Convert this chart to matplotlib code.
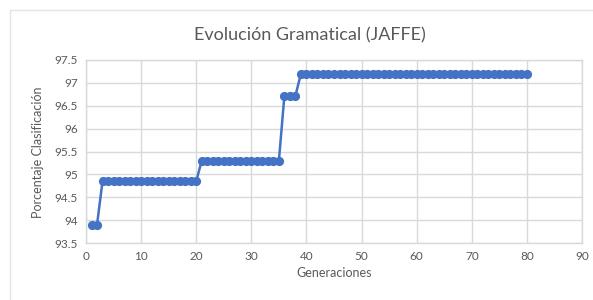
import matplotlib
matplotlib.use("Agg")
import matplotlib.pyplot as plt
from matplotlib.lines import Line2D

plt.rcParams['font.family'] = ['Lato', 'DejaVu Sans']

generaciones = list(range(1, 81))
porcentaje = ([93.9] * 2 + [94.85] * 18 + [95.3] * 15 + [96.72] * 3 + [97.2] * 42)

x_ticks = [0, 10, 20, 30, 40, 50, 60, 70, 80, 90]
y_ticks = [93.5, 94, 94.5, 95, 95.5, 96, 96.5, 97, 97.5]
y_tick_labels = ["93.5", "94", "94.5", "95", "95.5", "96", "96.5", "97", "97.5"]

title = "Evolución Gramatical (JAFFE)"
xlabel = "Generaciones"
ylabel = "Porcentaje Clasificación"

fig = plt.figure(figsize=(5.93, 3.0), dpi=100)
ax = fig.add_axes([86/593, 1 - 243/300, (582 - 86)/593, (243 - 60)/300])

grid_c = "#D9D9D9"
text_c = "#595959"

ax.plot(generaciones, porcentaje, color="#4472C4", lw=1.8, marker="o",
        markersize=5.6, markerfacecolor="#4472C4", markeredgecolor="#4472C4", zorder=3)

ax.set_xlim(0, 90)
ax.set_ylim(93.5, 97.5)
ax.set_xticks(x_ticks)
ax.set_yticks(y_ticks)
ax.set_yticklabels(y_tick_labels)
ax.grid(True, color=grid_c, lw=1.0)
ax.set_axisbelow(True)
for s in ax.spines.values():
    s.set_color(grid_c)
    s.set_linewidth(1.0)
ax.tick_params(length=0, colors=text_c, labelsize=8.5, pad=6)

fig.text(310/593, 1 - 35/300, title, ha="center", va="center", fontsize=13, color=text_c)
fig.text(334/593, 1 - 273/300, xlabel, ha="center", va="center", fontsize=9, color=text_c)
fig.text(38/593, 1 - 152/300, ylabel, ha="center", va="center", rotation=90, fontsize=9, color=text_c)

# chart border (left and top edges visible)
fig.add_artist(Line2D([10/593, 10/593], [0.005, 1 - 10/300], transform=fig.transFigure, color="#E5E5E5", lw=1))
fig.add_artist(Line2D([10/593, 1.0], [1 - 10/300, 1 - 10/300], transform=fig.transFigure, color="#E5E5E5", lw=1))

fig.savefig("out.png", dpi=100)
